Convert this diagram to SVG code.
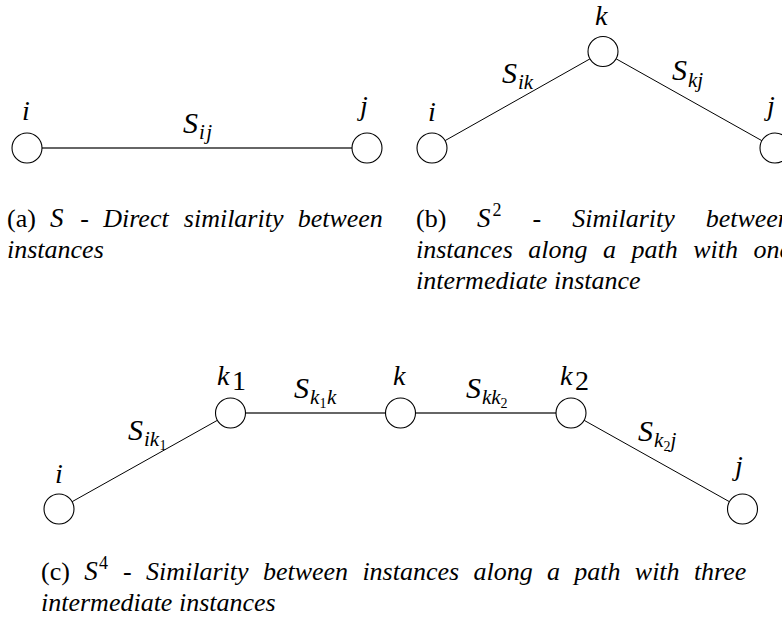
<svg xmlns="http://www.w3.org/2000/svg" width="782" height="633" viewBox="0 0 782 633" font-family="Liberation Serif, DejaVu Serif, serif">
<style>
.n{fill:#fff;stroke:#000;stroke-width:1.1}
.e{stroke:#000;stroke-width:1;fill:none}
.h{stroke:#333;stroke-width:1.3;fill:none}
.m{font-style:italic;font-size:28px;fill:#000}
.S{font-size:30px}
.s{font-size:21px}
.ss{font-size:14px;font-style:normal}
.r{font-style:normal}
.cap{font-style:italic;font-size:26px;fill:#000}
</style>
<rect width="782" height="633" fill="#fff"/>
<g id="connectors">
  <line class="h" x1="42" y1="148" x2="352" y2="148"/>
  <line class="e" x1="445.1" y1="140.6" x2="589.9" y2="58.9"/>
  <line class="e" x1="616.1" y1="58.8" x2="761.9" y2="140.7"/>
  <line class="e" x1="72.1" y1="501.7" x2="217.4" y2="420.3"/>
  <line class="h" x1="245.5" y1="413" x2="385.5" y2="413"/>
  <line class="h" x1="415.5" y1="413" x2="556" y2="413"/>
  <line class="e" x1="584.1" y1="420.3" x2="729.4" y2="501.7"/>
  <g id="edge-labels">
    <text class="m S" x="183" y="133">S</text><text class="m s" x="199" y="139" letter-spacing="1.5">ij</text>
    <text class="m S" x="502" y="83">S</text><text class="m s" x="518" y="89">ik</text>
    <text class="m S" x="672" y="80">S</text><text class="m s" x="688" y="87">kj</text>
    <text class="m S" x="294" y="398">S</text><text class="m s" x="310" y="404">k</text><text class="m ss" x="319.5" y="408">1</text><text class="m s" x="327" y="404">k</text>
    <text class="m S" x="466" y="398">S</text><text class="m s" x="482" y="404">kk</text><text class="m ss" x="500.5" y="408">2</text>
    <text class="m S" x="128" y="440">S</text><text class="m s" x="144" y="446">ik</text><text class="m ss" x="159.5" y="450">1</text>
    <text class="m S" x="638" y="441">S</text><text class="m s" x="654" y="447">k</text><text class="m ss" x="663.5" y="451">2</text><text class="m s" x="670.5" y="447">j</text>
  </g>
</g>
<g id="a-i"><circle class="n" cx="27" cy="148" r="15"/><text class="m" x="22" y="120">i</text></g>
<g id="a-j"><circle class="n" cx="367" cy="148" r="15"/><text class="m" x="360" y="115">j</text></g>
<g id="b-i"><circle class="n" cx="432" cy="148" r="15"/><text class="m" x="428" y="121">i</text></g>
<g id="b-k"><circle class="n" cx="603" cy="51.5" r="15"/><text class="m" x="595" y="25">k</text></g>
<g id="b-j"><circle class="n" cx="775" cy="148" r="15"/><text class="m" x="767" y="115">j</text></g>
<g id="c-i"><circle class="n" cx="59" cy="509" r="15"/><text class="m" x="55" y="483">i</text></g>
<g id="c-k1"><circle class="n" cx="230.5" cy="413" r="15"/><text class="m" x="217" y="385">k</text><text class="m r" x="232" y="390" font-size="18">1</text></g>
<g id="c-k"><circle class="n" cx="400.5" cy="413" r="15"/><text class="m" x="393" y="385">k</text></g>
<g id="c-k2"><circle class="n" cx="571" cy="413" r="15"/><text class="m" x="560" y="385">k</text><text class="m r" x="575" y="390" font-size="18">2</text></g>
<g id="c-j"><circle class="n" cx="742.5" cy="509" r="15"/><text class="m" x="735" y="475">j</text></g>
<g id="captions" class="cap">
  <text y="227"><tspan class="r" x="7">(a)</tspan><tspan x="50" font-size="27">S</tspan><tspan x="80.3">-</tspan><tspan x="103.2">Direct</tspan><tspan x="183.8">similarity</tspan><tspan x="297.7">between</tspan></text>
  <text x="7" y="258">instances</text>
  <text y="227"><tspan class="r" x="416">(b)</tspan><tspan x="477" font-size="27">S</tspan><tspan class="r" x="492.5" y="216" font-size="18">2</tspan><tspan x="532.6" y="227">-</tspan><tspan x="572.2">Similarity</tspan><tspan x="705.7">between</tspan></text>
  <text y="258"><tspan x="416">instances</tspan><tspan x="528.3">along</tspan><tspan x="603">a</tspan><tspan x="631.5">path</tspan><tspan x="693.2">with</tspan><tspan x="753.5">one</tspan></text>
  <text x="416" y="289">intermediate instance</text>
  <text y="580"><tspan class="r" x="41">(c)</tspan><tspan x="84.2" font-size="27">S</tspan><tspan class="r" x="99" y="569" font-size="18">4</tspan><tspan x="123" y="580">-</tspan><tspan x="146">Similarity</tspan><tspan x="262.9">between</tspan><tspan x="362.4">instances</tspan><tspan x="473.5">along</tspan><tspan x="547">a</tspan><tspan x="574.3">path</tspan><tspan x="634.8">with</tspan><tspan x="693.9">three</tspan></text>
  <text x="41" y="611">intermediate instances</text>
</g>
</svg>
